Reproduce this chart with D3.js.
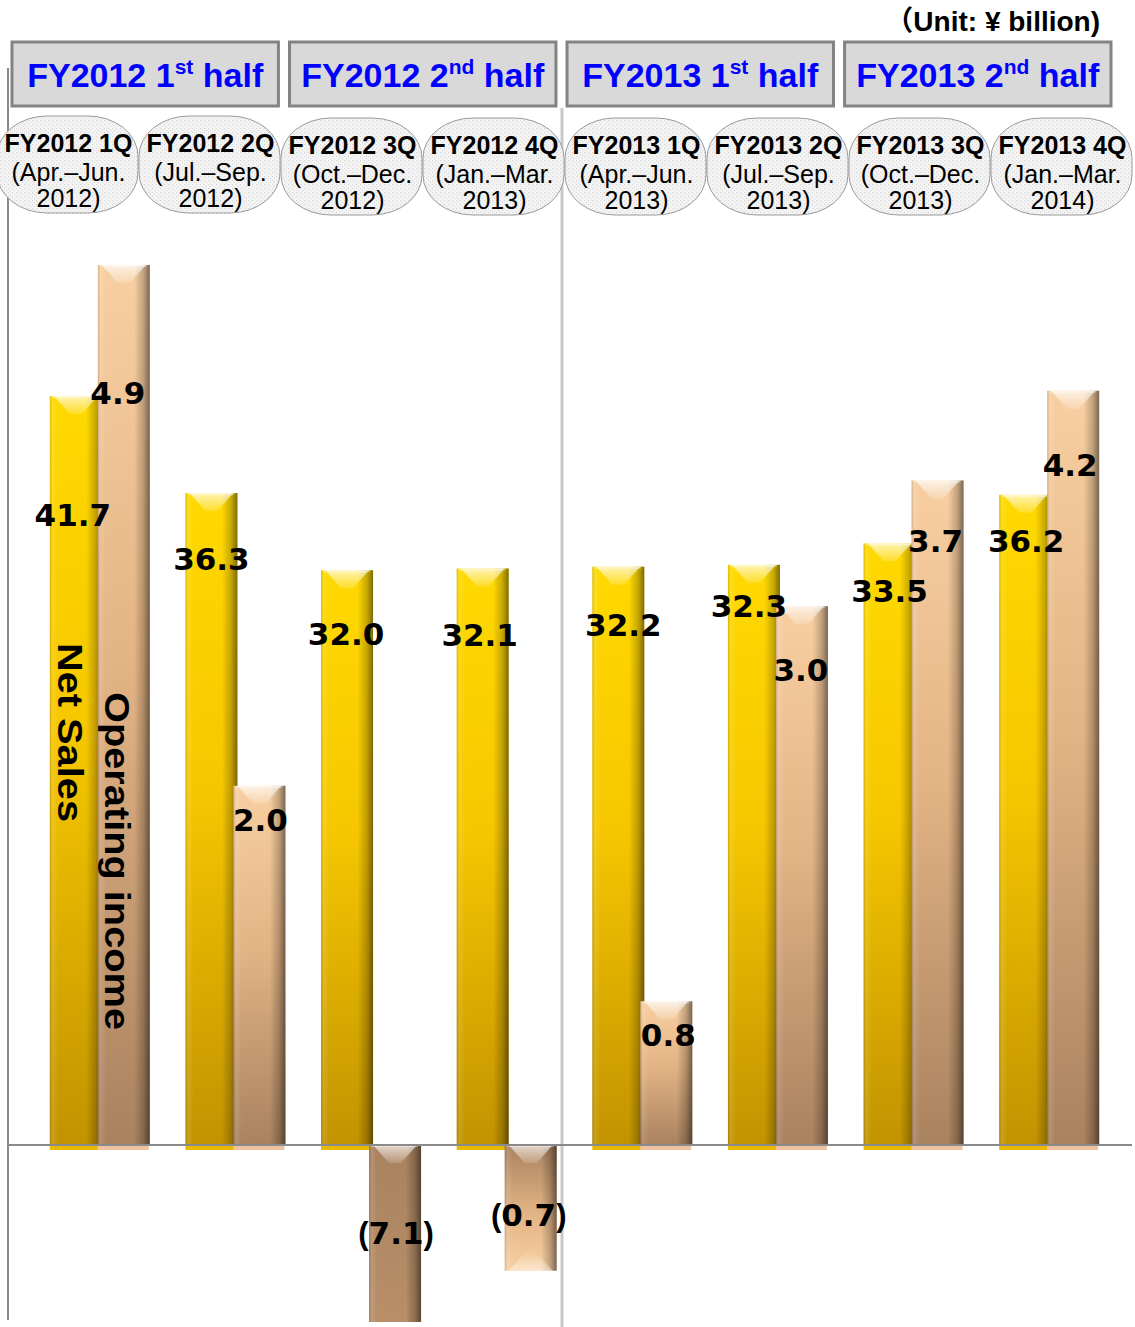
<!DOCTYPE html>
<html>
<head>
<meta charset="utf-8">
<script src="https://cdn.jsdelivr.net/npm/d3@7"></script>
<style>
  html, body { margin: 0; padding: 0; background: #fff; }
  svg { display: block; }
</style>
</head>
<body>
<svg id="chart" width="1135" height="1327"></svg>
<script>
// ---- data ----
const quarters = ["FY2012 1Q", "FY2012 2Q", "FY2012 3Q", "FY2012 4Q",
                  "FY2013 1Q", "FY2013 2Q", "FY2013 3Q", "FY2013 4Q"];
const quarterMonths = ["(Apr.–Jun.", "(Jul.–Sep.", "(Oct.–Dec.", "(Jan.–Mar.",
                       "(Apr.–Jun.", "(Jul.–Sep.", "(Oct.–Dec.", "(Jan.–Mar."];
const quarterYears = ["2012)", "2012)", "2012)", "2013)", "2013)", "2013)", "2013)", "2014)"];
const halfYears = ["FY2012", "FY2012", "FY2013", "FY2013"];
const halfNumbers = ["1", "2", "1", "2"];
const halfSuffixes = ["st", "nd", "st", "nd"];
const netSales = [41.7, 36.3, 32.0, 32.1, 32.2, 32.3, 33.5, 36.2];
const operatingIncome = [4.9, 2.0, -7.1, -0.7, 0.8, 3.0, 3.7, 4.2];
const unitNote = "Unit: ¥ billion)";

// hand-placed data label nudges (px): vertical from the bar end (or the axis for losses)
const salesLabelDy = [119, 66, 64, 66, 58, 41, 47, 46];
const salesLabelDx = [-2, 1, 0, -2, 6, -4, 1, 2];
const incomeLabelDy = [128, 34, 88, 70, 34, 64, 60, 74];
const incomeLabelDx = [-7, 0, 0, -3, 1, -2, -3, -4];

// ---- layout ----
const W = 1135, H = 1327;
const zeroY = 1145, plotBottom = 1322;
const svg = d3.select("#chart");
const defs = svg.append("defs");

const x = d3.scaleBand().domain(quarters).range([30, 1115]);
const xs = d3.scaleBand().domain(["sales", "income"]).range([-48, 52]);
const ySales = d3.scaleLinear().domain([0, 50]).range([zeroY, zeroY - 50 * 17.96]);
const yIncome = d3.scaleLinear().domain([0, 5]).range([zeroY, zeroY - 50 * 17.96]);
const xHead = d3.scaleBand().domain(quarters).range([-3, 1133]);
const xHalf = d3.scaleBand().domain(d3.range(4)).range([12, 1111]).paddingInner(0.04);

// ---- paint definitions ----
function vGrad(id, stops, flip) {
  const g = defs.append("linearGradient").attr("id", id)
    .attr("x1", 0).attr("y1", flip ? 1 : 0).attr("x2", 0).attr("y2", flip ? 0 : 1);
  stops.forEach(([o, c]) => g.append("stop").attr("offset", o).attr("stop-color", c));
}
const goldStops = [[0, "#ffd900"], [0.45, "#f6c700"], [1, "#c29300"]];
const tanStops = [[0, "#f8cfa2"], [0.45, "#e3b485"], [1, "#a9825f"]];
vGrad("gold-pos", goldStops, false);
vGrad("tan-pos", tanStops, false);
vGrad("tan-neg", tanStops, true);

const side = defs.append("linearGradient").attr("id", "side-shade").attr("x1", 0).attr("x2", 1).attr("y1", 0).attr("y2", 0);
[[0, "#000", 0.14], [0.05, "#fff", 0.12], [0.16, "#fff", 0], [0.7, "#000", 0], [0.88, "#000", 0.22], [1, "#000", 0.5]]
  .forEach(([o, c, a]) => side.append("stop").attr("offset", o).attr("stop-color", c).attr("stop-opacity", a));

const capG = defs.append("linearGradient").attr("id", "cap-light").attr("x1", 0).attr("x2", 0).attr("y1", 0).attr("y2", 1);
capG.append("stop").attr("offset", 0).attr("stop-color", "#fff").attr("stop-opacity", 0.7);
capG.append("stop").attr("offset", 1).attr("stop-color", "#fff").attr("stop-opacity", 0.15);
const capUp = defs.append("linearGradient").attr("id", "cap-light-up").attr("x1", 0).attr("x2", 0).attr("y1", 1).attr("y2", 0);
capUp.append("stop").attr("offset", 0).attr("stop-color", "#fff").attr("stop-opacity", 0.45);
capUp.append("stop").attr("offset", 1).attr("stop-color", "#fff").attr("stop-opacity", 0.05);

const dots = defs.append("pattern").attr("id", "dots").attr("width", 4).attr("height", 4).attr("patternUnits", "userSpaceOnUse");
dots.append("rect").attr("width", 4).attr("height", 4).attr("fill", "#f3f3f3");
dots.append("rect").attr("x", 0).attr("y", 0).attr("width", 1).attr("height", 1).attr("fill", "#d4d4d4");
dots.append("rect").attr("x", 2).attr("y", 2).attr("width", 1).attr("height", 1).attr("fill", "#dcdcdc");

defs.append("clipPath").attr("id", "plot-clip")
  .append("rect").attr("x", 0).attr("y", 0).attr("width", W).attr("height", plotBottom);

svg.append("rect").attr("width", W).attr("height", H).attr("fill", "#fff");

// ---- frame lines ----
svg.append("line").attr("x1", 562).attr("x2", 562).attr("y1", 108).attr("y2", H)
  .attr("stroke", "#c9c9c9").attr("stroke-width", 3);
svg.append("line").attr("x1", 8).attr("x2", 8).attr("y1", 68).attr("y2", 1320)
  .attr("stroke", "#8a8a8a").attr("stroke-width", 2);

// ---- bars ----
const barsLayer = svg.append("g").attr("clip-path", "url(#plot-clip)");

function drawBar(g, x0, w, yTop, yBot, fill, negative, footColor) {
  const h = yBot - yTop;
  g.append("rect").attr("x", x0).attr("y", yTop).attr("width", w).attr("height", h).attr("fill", fill);
  g.append("rect").attr("x", x0).attr("y", yTop).attr("width", w).attr("height", h).attr("fill", "url(#side-shade)");
  // bevel at the top end of the bar
  const ch = Math.min(18, h / 2);
  g.append("path")
    .attr("d", `M${x0 + 4},${yTop} L${x0 + w - 4},${yTop} L${x0 + w / 2 + 6},${yTop + ch} L${x0 + w / 2 - 6},${yTop + ch} Z`)
    .attr("fill", "url(#cap-light)");
  g.append("rect").attr("x", x0 + 2).attr("y", yTop).attr("width", w - 5).attr("height", 2)
    .attr("fill", "#fff").attr("fill-opacity", 0.35);
  if (negative) {
    // bevel at the lower (value) end of a loss bar
    g.append("path")
      .attr("d", `M${x0 + 4},${yBot} L${x0 + w - 4},${yBot} L${x0 + w / 2 + 6},${yBot - ch} L${x0 + w / 2 - 6},${yBot - ch} Z`)
      .attr("fill", "url(#cap-light-up)");
  } else {
    g.append("rect").attr("x", x0).attr("y", yBot).attr("width", w - 1).attr("height", 5)
      .attr("fill", footColor);
  }
}

quarters.forEach((q, i) => {
  const g = barsLayer.append("g");
  const c = x(q) + x.bandwidth() / 2;
  // Net Sales (gold)
  const sv = netSales[i];
  drawBar(g, c + xs("sales"), xs.bandwidth() + 2, ySales(sv), ySales(0), "url(#gold-pos)", false, "#e9b900");
  // Operating income (tan)
  const iv = operatingIncome[i];
  const neg = iv < 0;
  const top = neg ? yIncome(0) : yIncome(iv);
  const bot = neg ? yIncome(iv) : yIncome(0);
  drawBar(g, c + xs("income") - 2, xs.bandwidth() + 2, top, bot, neg ? "url(#tan-neg)" : "url(#tan-pos)", neg, "#efc3a0");
});

// axis baseline over the bars
svg.append("line").attr("x1", 8).attr("x2", 1132).attr("y1", zeroY).attr("y2", zeroY)
  .attr("stroke", "#8a8a8a").attr("stroke-width", 2);

// ---- data labels ----
const fmt = v => v < 0 ? `(${Math.abs(v).toFixed(1)})` : v.toFixed(1);
const labelFont = 31;
const labels = svg.append("g")
  .attr("font-family", "'DejaVu Sans', sans-serif")
  .attr("font-weight", "bold")
  .attr("font-size", labelFont)
  .attr("fill", "#000")
  .attr("text-anchor", "middle");

function numberLabel(cx, cy, v) {
  const t = labels.append("text").attr("x", cx).attr("y", cy + labelFont * 0.36);
  if (v < 0) {
    t.append("tspan").attr("font-family", "'Liberation Sans', Arial, sans-serif").text("(");
    t.append("tspan").text(Math.abs(v).toFixed(1));
    t.append("tspan").attr("font-family", "'Liberation Sans', Arial, sans-serif").text(")");
  } else {
    t.text(fmt(v));
  }
}

quarters.forEach((q, i) => {
  const c = x(q) + x.bandwidth() / 2;
  const sx = c + xs("sales") + xs.bandwidth() / 2 + salesLabelDx[i];
  numberLabel(sx, ySales(netSales[i]) + salesLabelDy[i], netSales[i]);
  const iv = operatingIncome[i];
  const ix = c + xs("income") + xs.bandwidth() / 2 + incomeLabelDx[i];
  const anchor = iv < 0 ? yIncome(0) : yIncome(iv);
  numberLabel(ix, anchor + incomeLabelDy[i], iv);
});

// ---- series names written along the first pair of bars ----
const c0 = x(quarters[0]) + x.bandwidth() / 2;
svg.append("text")
  .attr("transform", `translate(${c0 - 40},643) rotate(90)`)
  .attr("font-family", "'Liberation Sans', Arial, sans-serif")
  .attr("font-weight", "bold").attr("font-size", 35)
  .attr("textLength", 179).attr("lengthAdjust", "spacingAndGlyphs")
  .text("Net Sales");
svg.append("text")
  .attr("transform", `translate(${c0 + 7},692) rotate(90)`)
  .attr("font-family", "'Liberation Sans', Arial, sans-serif")
  .attr("font-weight", "bold").attr("font-size", 35)
  .attr("textLength", 338).attr("lengthAdjust", "spacingAndGlyphs")
  .text("Operating income");

// ---- quarter badges ----
const badges = svg.append("g");
quarters.forEach((q, i) => {
  const bx = xHead(q), bw = xHead.bandwidth() - 1;
  const by = i < 2 ? 116 : 118;
  const cx = bx + bw / 2 + 1;
  badges.append("rect").attr("x", bx).attr("y", by).attr("width", bw).attr("height", 97)
    .attr("rx", 50).attr("ry", 40)
    .attr("fill", "url(#dots)").attr("stroke", "#9a9a9a").attr("stroke-width", 1);
  const t = badges.append("g").attr("font-family", "'Liberation Sans', Arial, sans-serif")
    .attr("font-size", 25).attr("text-anchor", "middle").attr("fill", "#000");
  t.append("text").attr("x", cx).attr("y", by + 36).attr("font-weight", "bold").text(q);
  t.append("text").attr("x", cx).attr("y", by + 65).text(quarterMonths[i]);
  t.append("text").attr("x", cx).attr("y", by + 91).text(quarterYears[i]);
});

// ---- half-year boxes ----
const halves = svg.append("g");
d3.range(4).forEach(i => {
  const hx = xHalf(i), hw = xHalf.bandwidth();
  halves.append("rect").attr("x", hx).attr("y", 42).attr("width", hw).attr("height", 64)
    .attr("fill", "#d9d9d9").attr("stroke", "#838383").attr("stroke-width", 3);
  const t = halves.append("text").attr("x", hx + hw / 2).attr("y", 87)
    .attr("text-anchor", "middle")
    .attr("font-family", "'Liberation Sans', Arial, sans-serif")
    .attr("font-weight", "bold").attr("font-size", 34).attr("fill", "#0000ff");
  t.append("tspan").text(`${halfYears[i]} ${halfNumbers[i]}`);
  t.append("tspan").attr("font-size", 21).attr("dy", -13).text(halfSuffixes[i]);
  t.append("tspan").attr("dy", 13).text(" half");
});

// ---- unit note ----
const u = svg.append("text").attr("x", 1100).attr("y", 31).attr("text-anchor", "end")
  .attr("font-family", "'Liberation Sans', Arial, sans-serif")
  .attr("font-weight", "bold").attr("font-size", 28).attr("fill", "#000");
u.append("tspan").attr("font-family", "'Noto Sans CJK JP', sans-serif").text("（");
u.append("tspan").text(unitNote);
</script>
</body>
</html>
